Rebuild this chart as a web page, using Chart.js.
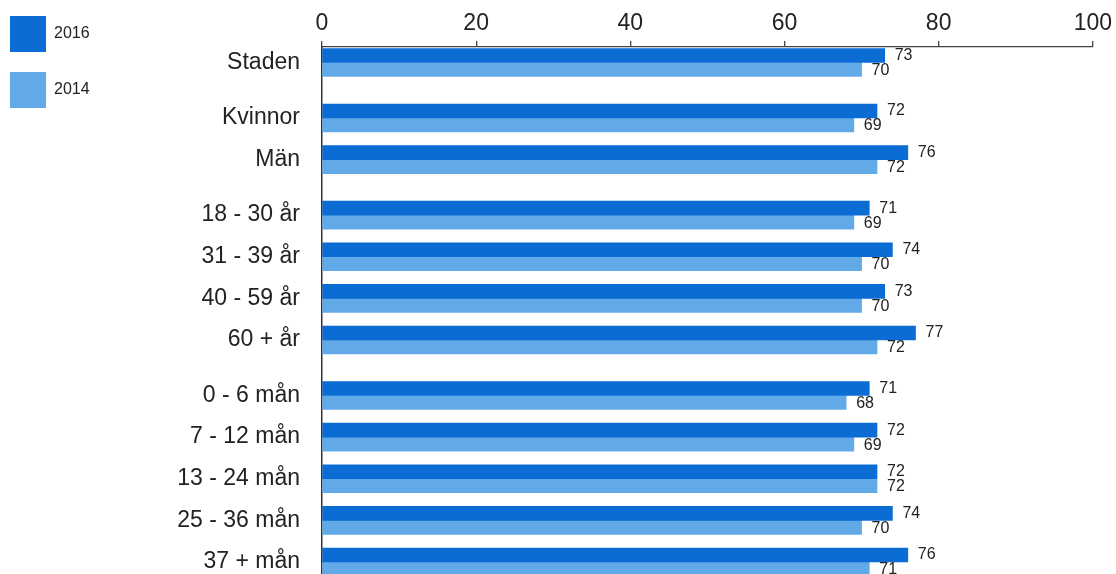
<!DOCTYPE html>
<html>
<head>
<meta charset="utf-8">
<script src="https://cdn.jsdelivr.net/npm/chart.js@4/dist/chart.umd.min.js"></script>
<style>
  html, body { margin: 0; padding: 0; background: #fff; overflow: hidden; }
  #chart { position: absolute; left: -10px; top: -4px; }
</style>
</head>
<body>
<canvas id="chart" width="1126" height="591"></canvas>
<script>
const categories = ['Staden', 'Kvinnor', 'Män',
  '18 - 30 år', '31 - 39 år', '40 - 59 år', '60 + år',
  '0 - 6 mån', '7 - 12 mån', '13 - 24 mån', '25 - 36 mån', '37 + mån'];
const groupSizes = [1, 2, 4, 5];
const values2016 = [73, 72, 76, 71, 74, 73, 77, 71, 72, 72, 74, 76];
const values2014 = [70, 69, 72, 69, 70, 70, 72, 68, 69, 72, 70, 71];
const xTicks = [0, 20, 40, 60, 80, 100];

// row positions on the y scale, with a small extra gap between groups
const groupGap = 1 / 3;
const rowPos = [];
groupSizes.forEach((n, g) => {
  for (let i = 0; i < n; i++) rowPos.push(rowPos.length + g * groupGap);
});

const dark = '#0b6cd3';
const light = '#62a9e8';

const valueLabels = {
  id: 'valueLabels',
  afterDatasetsDraw(chart) {
    const ctx = chart.ctx;
    ctx.save();
    ctx.font = '16px "Liberation Sans", Arial, sans-serif';
    ctx.fillStyle = '#222';
    ctx.textAlign = 'left';
    ctx.textBaseline = 'middle';
    chart.data.datasets.forEach((ds, di) => {
      chart.getDatasetMeta(di).data.forEach((bar, i) => {
        ctx.fillText(ds.data[i].x, bar.x + 10, bar.y + (di === 0 ? 0 : 1));
      });
    });
    ctx.restore();
  }
};

new Chart(document.getElementById('chart'), {
  type: 'bar',
  data: {
    datasets: [
      {
        label: '2016',
        data: values2016.map((v, i) => ({ x: v, y: rowPos[i] })),
        backgroundColor: dark,
        borderWidth: 0,
      },
      {
        label: '2014',
        data: values2014.map((v, i) => ({ x: v, y: rowPos[i] })),
        backgroundColor: light,
        borderWidth: 0,
      },
    ],
  },
  options: {
    indexAxis: 'y',
    responsive: false,
    animation: false,
    barThickness: 14,
    layout: { padding: { top: 0, right: 23, bottom: 0, left: 0 } },
    plugins: {
      tooltip: { enabled: false },
      legend: {
        position: 'left',
        align: 'start',
        labels: {
          boxWidth: 36,
          boxHeight: 36,
          padding: 20,
          color: '#222',
          font: { family: '"Liberation Sans", Arial, sans-serif', size: 16 },
        },
      },
    },
    scales: {
      x: {
        type: 'linear',
        position: 'top',
        min: 0,
        max: 100,
        afterBuildTicks: (s) => { s.ticks = xTicks.map(v => ({ value: v })); },
        afterFit: (s) => { s.height = 51; },
        grid: { drawOnChartArea: false, drawTicks: true, tickLength: 6, color: '#444', lineWidth: 1.3 },
        border: { display: true, color: '#444', width: 1.3 },
        ticks: {
          padding: 4,
          color: '#222',
          font: { family: '"Liberation Sans", Arial, sans-serif', size: 23 },
        },
      },
      y: {
        type: 'linear',
        reverse: true,
        offset: false,
        min: -0.373,
        max: 12.6,
        afterBuildTicks: (s) => { s.ticks = rowPos.map(v => ({ value: v })); },
        afterFit: (s) => {
          s.width = 332 - (s.chart.legend ? s.chart.legend.width : 0);
          s.paddingTop = 0;
          s.paddingBottom = 0;
        },
        grid: { display: false, drawTicks: false, offset: false },
        border: { display: true, color: '#333', width: 1.5 },
        ticks: {
          autoSkip: false,
          padding: 22,
          color: '#222',
          font: { family: '"Liberation Sans", Arial, sans-serif', size: 23 },
          callback: (v, i) => categories[i],
        },
      },
    },
  },
  plugins: [valueLabels],
});
</script>
</body>
</html>
